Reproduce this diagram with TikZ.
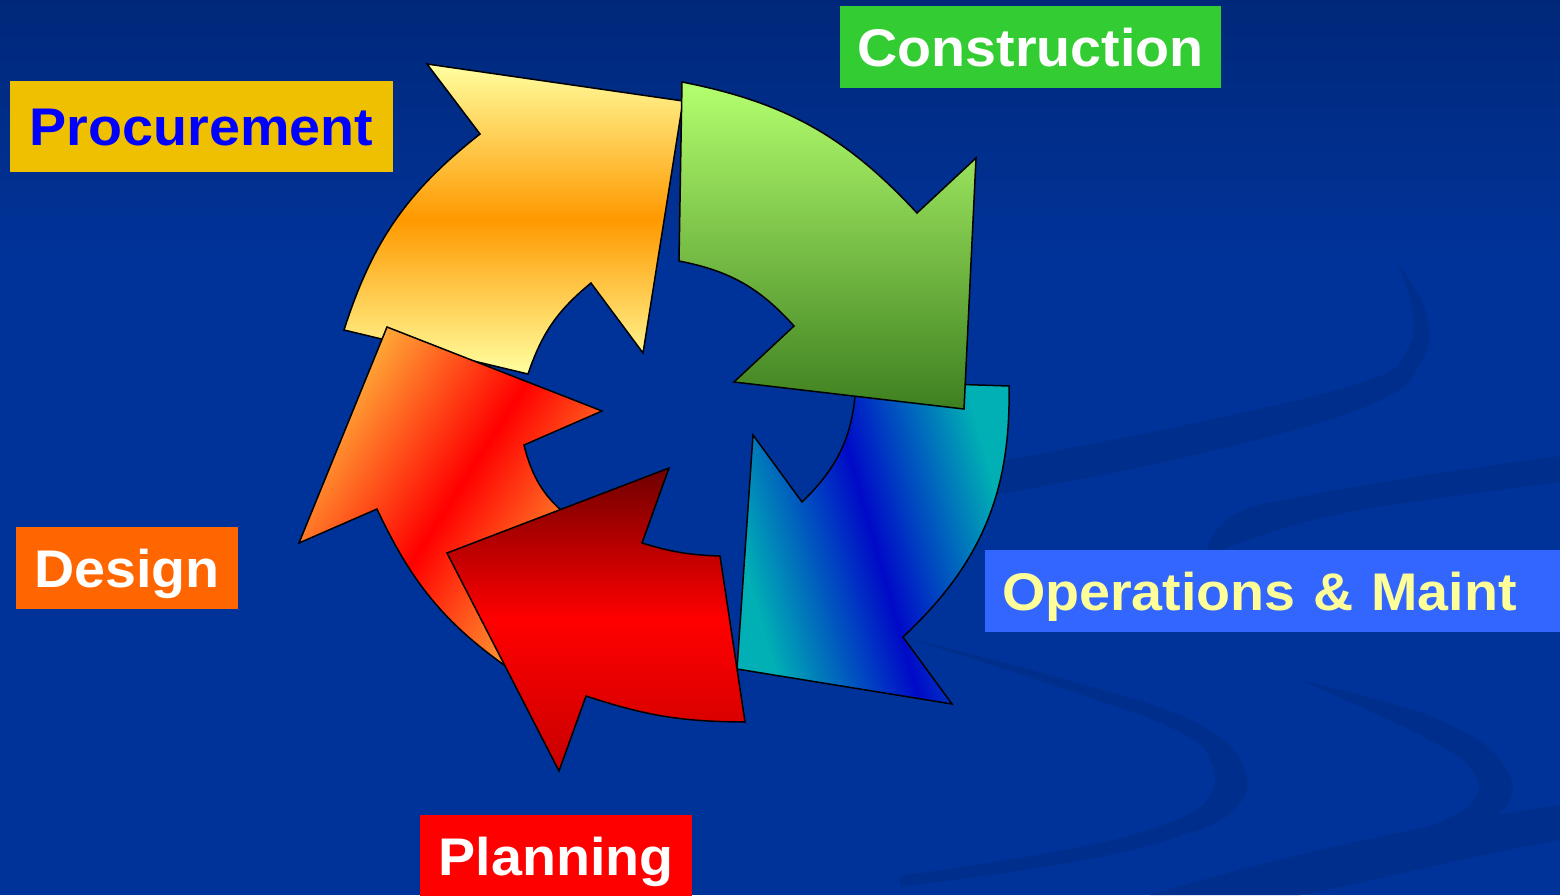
\documentclass[tikz,border=0pt]{standalone}
\usepackage{fontspec}
\newfontfamily\lblfont[FakeStretch=1.05]{Liberation Sans}
\definecolor{bgblue}{RGB}{0,51,153}
\definecolor{bgtop}{RGB}{0,40,122}
\definecolor{swoosh}{RGB}{0,46,140}
\definecolor{procYel}{RGB}{255,255,160}
\definecolor{procOr}{RGB}{255,153,0}
\definecolor{conTop}{RGB}{180,255,110}
\definecolor{conBot}{RGB}{62,128,32}
\definecolor{opsTeal}{RGB}{0,176,180}
\definecolor{opsBlue}{RGB}{0,10,200}
\definecolor{plaTop}{RGB}{110,0,0}
\definecolor{plaMid}{RGB}{255,0,0}
\definecolor{plaBot}{RGB}{200,0,0}
\definecolor{desOr}{RGB}{255,168,55}
\definecolor{desRed}{RGB}{255,0,0}
\definecolor{procBox}{RGB}{238,192,0}
\definecolor{conBox}{RGB}{51,204,51}
\definecolor{desBox}{RGB}{255,102,0}
\definecolor{opsBox}{RGB}{51,102,255}
\definecolor{plaBox}{RGB}{255,0,0}
\definecolor{opsText}{RGB}{255,255,153}
\definecolor{procText}{RGB}{0,0,255}
\pgfdeclarehorizontalshading{desshade}{100bp}{color(0bp)=(desOr); color(27bp)=(desOr); color(50bp)=(desRed); color(73bp)=(desOr); color(100bp)=(desOr)}
\pgfdeclarehorizontalshading{opsshade}{100bp}{color(0bp)=(opsTeal); color(27bp)=(opsTeal); color(50bp)=(opsBlue); color(73bp)=(opsTeal); color(100bp)=(opsTeal)}
\begin{document}
\begin{tikzpicture}[x=1pt,y=-1pt,
  arrowline/.style={draw=black, line width=1.5pt, line join=miter},
  lbl/.style={font=\lblfont\bfseries\fontsize{53}{60}\selectfont, inner sep=0pt,
              text height=38pt, text depth=0pt, anchor=center}]
\useasboundingbox (0,0) rectangle (1560,895);
\clip (0,0) rectangle (1560,895);
% background
\fill[bgblue] (0,0) rectangle (1560,895);
\shade[top color=bgtop, bottom color=bgblue] (0,0) rectangle (1560,260);
% swooshes
\fill[swoosh] plot[smooth, tension=0.7] coordinates {(1397,262) (1413,312) (1405,353) (1363,382) (1195,423) (995,462)}
  -- plot[smooth, tension=0.7] coordinates {(995,495) (1195,455) (1370,405) (1422,360) (1425,310) (1397,262)} -- cycle;
\fill[swoosh] plot[smooth, tension=0.7] coordinates {(1207,548) (1237,513) (1321,493) (1447,472) (1560,456)}
  -- (1560,482) -- plot[smooth, tension=0.7] coordinates {(1447,497) (1321,518) (1215,552)} -- cycle;
\fill[swoosh] plot[smooth, tension=0.7] coordinates {(903,637) (1068,680) (1195,722) (1244,768) (1234,810) (1174,838) (1068,863) (900,887)}
  -- plot[smooth, tension=0.7] coordinates {(900,876) (1060,851) (1160,826) (1207,800) (1212,765) (1180,732) (1068,690) (903,637)} -- cycle;
\fill[swoosh] plot[smooth, tension=0.7] coordinates {(1300,680) (1440,720) (1507,770) (1497,815) (1426,842)}
  -- plot[smooth, tension=0.7] coordinates {(1418,830) (1470,805) (1472,770) (1420,735) (1300,680)} -- cycle;
\fill[swoosh] (1150,895) .. controls (1300,850) and (1450,820) .. (1560,805) -- (1560,840)
  .. controls (1450,860) and (1380,880) .. (1300,895) -- cycle;
% Procurement arrow
\path[arrowline, top color=procYel, bottom color=procYel, middle color=procOr]
  (344,330) to[bend left=17] (480,134) -- (427,64) -- (683,101) -- (643,353)
  -- (591,283) to[bend right=16] (528,374) -- cycle;
% Design arrow
\path[arrowline, shading=desshade, shading angle=-32.5]
  (520,676) to[bend left=15.5] (377,509) -- (299,543) -- (387,327) -- (602,411)
  -- (524,445) to[bend right=23] (585,527) -- cycle;
% Operations arrow
\path[arrowline, shading=opsshade, shading angle=16]
  (1009,386) to[bend left=24] (903,637) -- (952,704) -- (737,669) -- (753,435)
  -- (802,502) to[bend right=22] (856,381) -- cycle;
% Planning arrow
\path[arrowline, top color=plaTop, bottom color=plaBot, middle color=plaMid]
  (745,722) to[bend left=9] (586,696) -- (559,771) -- (447,553) -- (669,468)
  -- (642,543) to[bend right=7.5] (720,556) -- cycle;
% Construction arrow
\path[arrowline, top color=conTop, bottom color=conBot]
  (682,82) to[bend left=18] (917,213) -- (976,158) -- (964,409) -- (734,382)
  -- (794,326) to[bend right=18.5] (679,261) -- cycle;
% labels
\node[lbl, fill=procBox, text=procText, minimum width=383pt, minimum height=91pt] (proc) at (201.5,126.5) {Procurement};
\node[lbl, fill=conBox, text=white, minimum width=381pt, minimum height=82pt] (cons) at (1030.5,47) {Construction};
\node[lbl, fill=desBox, text=white, minimum width=222pt, minimum height=82pt] (des) at (127,568) {Design};
\node[lbl, fill=opsBox, text=opsText, minimum height=82pt, inner xsep=17pt, text width=541pt, align=left] (ops) at (1272.5,591) {Operations \& Maint};
\node[lbl, fill=plaBox, text=white, minimum width=272pt, minimum height=82pt] (plan) at (556,856) {Planning};
\end{tikzpicture}
\end{document}
